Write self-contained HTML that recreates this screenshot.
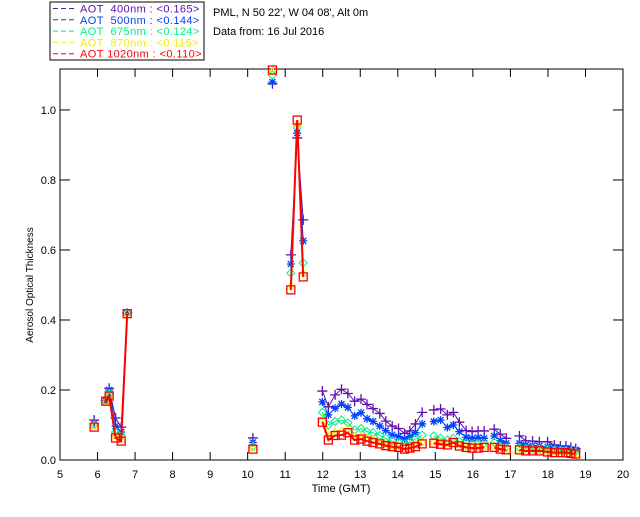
<!DOCTYPE html>
<html><head><meta charset="utf-8"><style>
body{margin:0;background:#fff;width:640px;height:512px;overflow:hidden}
svg{font-family:"Liberation Sans",sans-serif;font-size:11px}
</style></head><body>
<svg id="chart" width="640" height="512" xmlns="http://www.w3.org/2000/svg">
<rect x="50" y="2" width="154" height="58" fill="#fff" stroke="#000"/>
<g id="legend"></g>
<text x="213" y="16">PML, N 50 22', W 04 08', Alt 0m</text>
<text x="213" y="35">Data from: 16 Jul 2016</text>
<rect x="60" y="69" width="563" height="391" fill="none" stroke="#000"/>
<g id="axes"></g>
<g id="series"></g>
<text x="341" y="492" text-anchor="middle">Time (GMT)</text>
<text transform="translate(33,285) rotate(-90)" text-anchor="middle" font-size="10">Aerosol Optical Thickness</text>
</svg>
<script>
const times=[5.91,6.22,6.31,6.48,6.63,6.79,10.14,10.66,11.15,11.32,11.48,
11.99,12.15,12.33,12.50,12.67,12.85,13.02,13.18,13.34,13.52,13.68,13.85,14.02,14.18,14.32,14.47,14.65,
14.96,15.14,15.32,15.48,15.64,15.82,15.98,16.14,16.30,16.57,16.73,16.89,17.24,17.41,17.59,17.77,17.99,18.17,18.33,18.48,18.61,18.74];
const aot400=[0.114,0.17,0.205,0.12,0.094,0.42,0.063,1.075,0.586,0.92,0.686,
0.197,0.152,0.186,0.202,0.19,0.168,0.174,0.159,0.147,0.133,0.111,0.097,0.09,0.076,0.083,0.103,0.136,
0.143,0.146,0.129,0.136,0.108,0.084,0.081,0.083,0.083,0.088,0.074,0.062,0.069,0.055,0.054,0.052,0.052,0.043,0.04,0.04,0.036,0.033];
const aot500=[0.105,0.17,0.2,0.097,0.08,0.42,0.05,1.08,0.56,0.934,0.626,
0.166,0.129,0.148,0.16,0.15,0.126,0.135,0.118,0.11,0.097,0.084,0.072,0.067,0.06,0.067,0.078,0.103,
0.11,0.114,0.093,0.1,0.081,0.065,0.062,0.064,0.062,0.069,0.055,0.048,0.048,0.043,0.041,0.04,0.038,0.036,0.033,0.033,0.031,0.029];
const aot675=[0.1,0.169,0.19,0.08,0.07,0.42,0.04,1.1,0.534,0.95,0.563,
0.136,0.1,0.11,0.114,0.106,0.086,0.09,0.081,0.078,0.07,0.062,0.054,0.05,0.046,0.052,0.06,0.071,
0.069,0.062,0.057,0.062,0.053,0.048,0.046,0.046,0.048,0.05,0.04,0.036,0.036,0.033,0.033,0.032,0.03,0.029,0.027,0.027,0.025,0.023];
const aot870=[0.097,0.168,0.186,0.07,0.06,0.42,0.035,1.11,0.5,0.96,0.535,
0.118,0.068,0.08,0.082,0.09,0.066,0.068,0.062,0.058,0.052,0.046,0.042,0.04,0.035,0.038,0.044,0.052,
0.054,0.05,0.048,0.054,0.044,0.04,0.038,0.038,0.04,0.04,0.034,0.031,0.031,0.028,0.028,0.028,0.026,0.024,0.023,0.023,0.021,0.019];
const aot1020=[0.094,0.168,0.183,0.063,0.054,0.418,0.031,1.114,0.486,0.971,0.523,
0.108,0.057,0.07,0.071,0.078,0.057,0.06,0.054,0.05,0.046,0.041,0.038,0.036,0.031,0.034,0.038,0.046,
0.048,0.045,0.043,0.05,0.04,0.036,0.034,0.034,0.036,0.036,0.031,0.029,0.029,0.026,0.026,0.026,0.023,0.021,0.021,0.021,0.019,0.017];
const xTicks=[5,6,7,8,9,10,11,12,13,14,15,16,17,18,19,20];
const yTicks=[0,0.2,0.4,0.6,0.8,1.0];
const legendLabels=["AOT  400nm : <0.165>","AOT  500nm : <0.144>","AOT  675nm : <0.124>","AOT  870nm : <0.115>","AOT 1020nm : <0.110>"];
const NS="http://www.w3.org/2000/svg";
const X0=60,X1=623,Y0=460,Y1=69,XMIN=5,XMAX=20,YMIN=0,YMAX=1.117;
function xs(v){return X0+(v-XMIN)/(XMAX-XMIN)*(X1-X0);}
function ys(v){return Y0-(v-YMIN)/(YMAX-YMIN)*(Y0-Y1);}
function mk(tag,attrs,parent){const e=document.createElementNS(NS,tag);for(const k in attrs)e.setAttribute(k,attrs[k]);parent.appendChild(e);return e;}
const axes=document.getElementById('axes');
xTicks.forEach(t=>{const x=xs(t);
 const a=mk('line',{x1:x,x2:x,y1:Y0,y2:Y0-8,stroke:'#000'},axes);
 
 
 const b=mk('line',{x1:x,x2:x,y1:Y1,y2:Y1+8,stroke:'#000'},axes);
 
 
 const l=mk('text',{x:x,y:478,'text-anchor':'middle'},axes);l.textContent=String(t);
 
 
});
yTicks.forEach(t=>{const y=ys(t);
 const a=mk('line',{x1:X0,x2:X0+10,y1:y,y2:y,stroke:'#000'},axes);
 
 
 const b=mk('line',{x1:X1,x2:X1-10,y1:y,y2:y,stroke:'#000'},axes);
 
 
 const l=mk('text',{x:X0-4,y:y+4,'text-anchor':'end'},axes);l.textContent=t.toFixed(1);
 
 
});
const seriesList=[[aot400,'#6010b0','plus',1],[aot500,'#0040ff','star',1],[aot675,'#00ee88','diamond',1],[aot870,'#f0f000','tri',1],[aot1020,'#ff0000','square',2]];
const sg=document.getElementById('series');
const names=['aot-400','aot-500','aot-675','aot-870','aot-1020'];
seriesList.forEach((s,si)=>{
 const [vals,col,m,w]=s;
 const g=mk('g',{},sg);
 
 
 let d='';
 for(let i=0;i<times.length;i++){
  const x=xs(times[i]),y=ys(vals[i]);
  const brk=i===0||times[i]-times[i-1]>0.25;
  d+=(brk?'M':'L')+x.toFixed(1)+' '+y.toFixed(1);
 }
 const p=mk('path',{d:d,fill:'none',stroke:col,'stroke-width':w},g);
 
 
 for(let i=0;i<times.length;i++){
  const x=xs(times[i]),y=ys(vals[i]);let e;
  if(m==='plus')e=mk('path',{d:`M${x-5} ${y}H${x+5}M${x} ${y-5}V${y+5}`,stroke:col,'stroke-width':1.3},g);
  else if(m==='star')e=mk('path',{d:`M${x-4} ${y}H${x+4}M${x} ${y-4}V${y+4}M${x-3} ${y-3}L${x+3} ${y+3}M${x-3} ${y+3}L${x+3} ${y-3}`,stroke:col,'stroke-width':1.3},g);
  else if(m==='diamond')e=mk('path',{d:`M${x} ${y-4}L${x+4} ${y}L${x} ${y+4}L${x-4} ${y}Z`,fill:'none',stroke:col},g);
  else if(m==='tri')e=mk('path',{d:`M${x} ${y-4}L${x+4} ${y+3}L${x-4} ${y+3}Z`,fill:'none',stroke:col},g);
  else e=mk('rect',{x:x-4,y:y-4,width:8,height:8,fill:'none',stroke:col,'stroke-width':1.3},g);
  
  
 }
});
const lg=document.getElementById('legend');
legendLabels.forEach((t,i)=>{
 const y=8.5+i*11.3;const col=seriesList[i][1];
 const l=mk('path',{d:`M53 ${y}h5M61 ${y}h5M69 ${y}h5`,stroke:col},lg);
 
 
 const tx=mk('text',{x:80,y:y+4,fill:col,'xml:space':'preserve','letter-spacing':'0.4'},lg);tx.textContent=t;
 tx.style.whiteSpace='pre';
 
 
});
</script>
</body></html>
